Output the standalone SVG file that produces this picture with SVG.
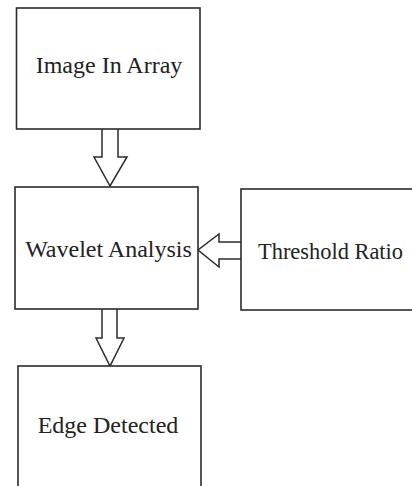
<svg xmlns="http://www.w3.org/2000/svg" width="412" height="486" viewBox="0 0 412 486">
<style>
.box{fill:#fff;stroke:#2b2b2b;stroke-width:1.6}
.arrow{fill:#fff;stroke:#2b2b2b;stroke-width:1.5;stroke-linejoin:miter}
.lbl{font-family:"Liberation Serif","Times New Roman",serif;font-size:24px;fill:#222;text-anchor:middle}
</style>
<rect width="412" height="486" fill="#fff"/>
<g id="connectors">
<path class="arrow" d="M102,129 V157 H94 L110,186 L127,157 H118 V129"/>
<path class="arrow" d="M241,242 H219 V234 L198,250 L219,267 V259 H241"/>
<path class="arrow" d="M102,309 V338 H96 L110,366 L124,338 H117 V309"/>
</g>
<g id="image-in-array">
<rect class="box" x="16.5" y="8" width="183.5" height="121"/>
<text class="lbl" x="109" y="73">Image In Array</text>
</g>
<g id="wavelet-analysis">
<rect class="box" x="15" y="187" width="183" height="122"/>
<text class="lbl" x="108.5" y="257">Wavelet Analysis</text>
</g>
<g id="threshold-ratio">
<rect class="box" x="241" y="189" width="175" height="121"/>
<text class="lbl" x="330.5" y="259" textLength="145" lengthAdjust="spacingAndGlyphs">Threshold Ratio</text>
</g>
<g id="edge-detected">
<rect class="box" x="18" y="366" width="183" height="125"/>
<text class="lbl" x="108" y="433">Edge Detected</text>
</g>
</svg>
